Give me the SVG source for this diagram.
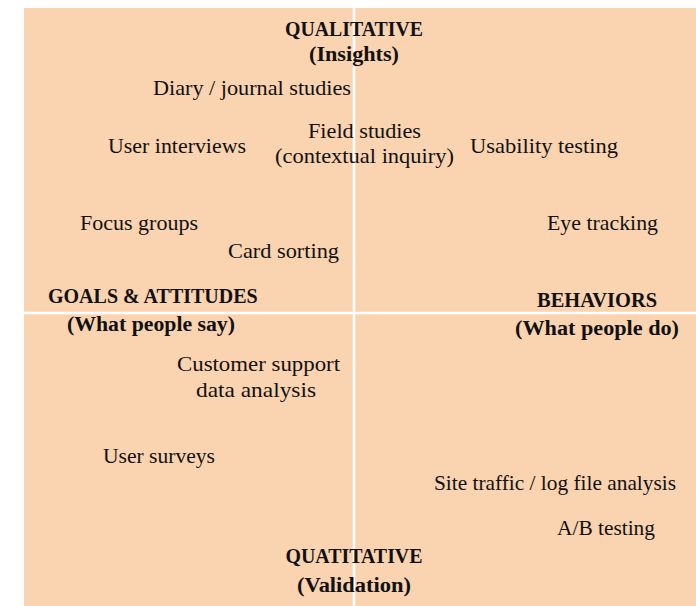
<svg xmlns="http://www.w3.org/2000/svg" width="696" height="606" viewBox="0 0 696 606">
<style>
.t{font-family:"Liberation Serif","DejaVu Serif",serif;font-size:21px;fill:#111;}
.b{font-family:"Liberation Serif","DejaVu Serif",serif;font-size:20px;font-weight:bold;fill:#111;}
.c{text-anchor:middle;}
.ax{stroke:#fff;stroke-width:2.5;}
</style>
<rect x="24" y="8" width="672" height="598" fill="#FAD3B0"/>
<g id="axes">
<line class="ax" x1="354" y1="8" x2="354" y2="606"/>
<line class="ax" x1="24" y1="313" x2="696" y2="313"/>
</g>
<g id="axis-labels">
<text class="b c" x="354" y="36" textLength="138" lengthAdjust="spacingAndGlyphs">QUALITATIVE</text>
<text class="b c" x="354" y="61" textLength="90" lengthAdjust="spacingAndGlyphs">(Insights)</text>
<text class="b" x="48" y="303">GOALS &amp; ATTITUDES</text>
<text class="b" x="67" y="331" textLength="168" lengthAdjust="spacingAndGlyphs">(What people say)</text>
<text class="b" x="537" y="307" textLength="120" lengthAdjust="spacingAndGlyphs">BEHAVIORS</text>
<text class="b" x="515" y="335" textLength="164" lengthAdjust="spacingAndGlyphs">(What people do)</text>
<text class="b c" x="354" y="563" textLength="137" lengthAdjust="spacingAndGlyphs">QUATITATIVE</text>
<text class="b c" x="354" y="592" textLength="114" lengthAdjust="spacingAndGlyphs">(Validation)</text>
</g>
<g id="n-diary"><text class="t" x="153" y="95" textLength="198" lengthAdjust="spacingAndGlyphs">Diary / journal studies</text></g>
<g id="n-interviews"><text class="t" x="108" y="153" textLength="138" lengthAdjust="spacingAndGlyphs">User interviews</text></g>
<g id="n-field"><text class="t" x="308" y="137.5" textLength="113" lengthAdjust="spacingAndGlyphs">Field studies</text>
<text class="t" x="275" y="163" textLength="179" lengthAdjust="spacingAndGlyphs">(contextual inquiry)</text></g>
<g id="n-usability"><text class="t" x="470" y="153" textLength="148" lengthAdjust="spacingAndGlyphs">Usability testing</text></g>
<g id="n-focus"><text class="t" x="80" y="229.5" textLength="118" lengthAdjust="spacingAndGlyphs">Focus groups</text></g>
<g id="n-eye"><text class="t" x="547" y="229.5" textLength="111" lengthAdjust="spacingAndGlyphs">Eye tracking</text></g>
<g id="n-card"><text class="t" x="228" y="258" textLength="111" lengthAdjust="spacingAndGlyphs">Card sorting</text></g>
<g id="n-support"><text class="t" x="177" y="371" textLength="163" lengthAdjust="spacingAndGlyphs">Customer support</text>
<text class="t" x="196" y="397" textLength="120" lengthAdjust="spacingAndGlyphs">data analysis</text></g>
<g id="n-surveys"><text class="t" x="103" y="463" textLength="112" lengthAdjust="spacingAndGlyphs">User surveys</text></g>
<g id="n-traffic"><text class="t" x="434" y="490" textLength="242" lengthAdjust="spacingAndGlyphs">Site traffic / log file analysis</text></g>
<g id="n-ab"><text class="t" x="557" y="535" textLength="98" lengthAdjust="spacingAndGlyphs">A/B testing</text></g>
<g id="connectors"></g>
</svg>
